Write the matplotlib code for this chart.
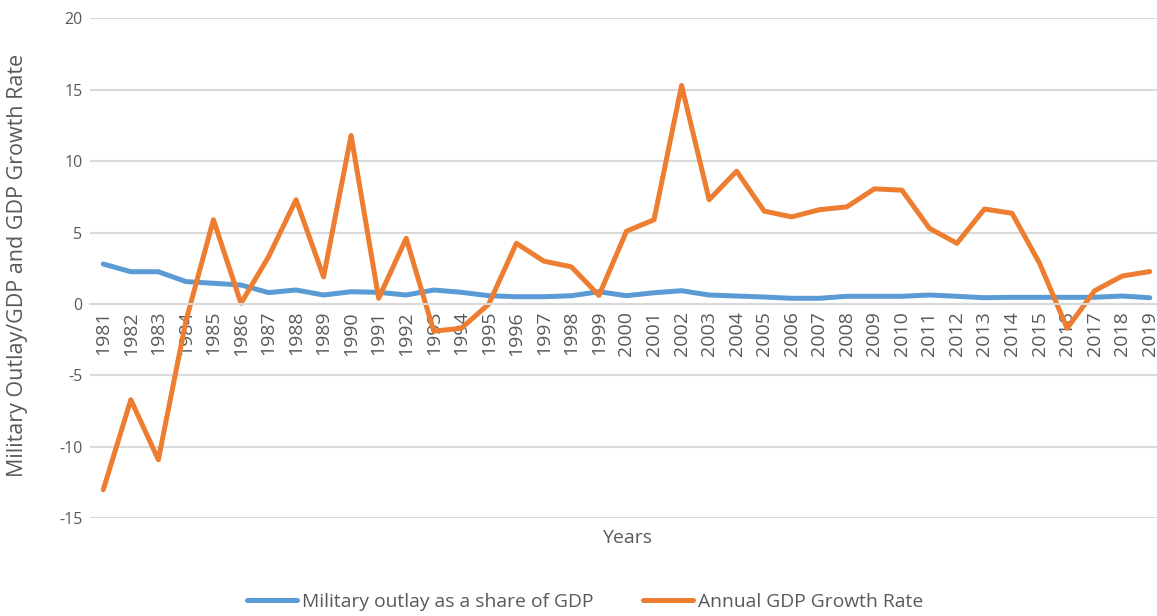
import numpy as np
import matplotlib.pyplot as plt

years = list(range(1981, 2020))

military_share = [2.80, 2.26, 2.26, 1.57, 1.45, 1.33, 0.80, 0.98, 0.63, 0.86,
                  0.82, 0.63, 0.98, 0.82, 0.58, 0.51, 0.51, 0.58, 0.86, 0.58,
                  0.79, 0.93, 0.63, 0.56, 0.49, 0.40, 0.40, 0.54, 0.54, 0.54,
                  0.63, 0.54, 0.44, 0.47, 0.47, 0.47, 0.47, 0.56, 0.44]

gdp_growth = [-13.0, -6.7, -10.9, -1.2, 5.9, 0.05, 3.3, 7.3, 1.9, 11.8,
              0.4, 4.6, -1.9, -1.7, 0.0, 4.25, 3.0, 2.6, 0.6, 5.1,
              5.9, 15.3, 7.3, 9.3, 6.5, 6.1, 6.6, 6.8, 8.06, 7.97,
              5.3, 4.25, 6.65, 6.35, 2.85, -1.7, 0.93, 1.96, 2.27]

blue = "#5B9BD5"
orange = "#ED7D31"
grey_text = "#595959"
grid_col = "#D9D9D9"

plt.rcParams["font.family"] = ["Open Sans", "DejaVu Sans"]
plt.rcParams["axes.unicode_minus"] = False

fig = plt.figure(figsize=(11.57, 6.16), dpi=100)
ax = fig.add_axes([89.5 / 1157, 1 - 518.3 / 616, 1074 / 1157, 500 / 616])

x = np.arange(len(years))
ax.plot(x, military_share, color=blue, lw=3.6, solid_capstyle="round",
        solid_joinstyle="round", label="Military outlay as a share of GDP")
ax.plot(x, gdp_growth, color=orange, lw=3.6, solid_capstyle="round",
        solid_joinstyle="round", label="Annual GDP Growth Rate")

ax.set_xlim(-0.5, len(years) - 0.5)
ax.set_ylim(-15, 20)
ax.set_yticks(np.arange(-15, 21, 5))
ax.yaxis.grid(True, color=grid_col, lw=1.5)
ax.set_axisbelow(True)

for side in ["top", "right", "left"]:
    ax.spines[side].set_visible(False)
ax.spines["bottom"].set_position(("data", 0))
ax.spines["bottom"].set_color(grid_col)
ax.spines["bottom"].set_linewidth(1.5)

ax.set_xticks(x)
ax.set_xticklabels([str(y) for y in years], rotation=90, fontsize=14,
                   color=grey_text)
ax.tick_params(axis="x", length=0, pad=5)
ax.tick_params(axis="y", length=0, pad=5, labelsize=11.5, labelcolor=grey_text)

# axis titles
fig.text(18 / 1157, 1 - 265 / 616, "Military Outlay/GDP and GDP Growth Rate",
         rotation=90, ha="center", va="center", fontsize=15.5, color=grey_text)
fig.text(627 / 1157, 1 - 538 / 616, "Years", ha="center", va="center",
         fontsize=14, color=grey_text)

fig.legend(loc="center", bbox_to_anchor=(585 / 1157, 1 - 602 / 616), ncol=2,
           frameon=False, fontsize=13.9, handlelength=2.6, handletextpad=0.25,
           columnspacing=2.6, labelcolor=grey_text)

fig.savefig("out.png", dpi=100)
